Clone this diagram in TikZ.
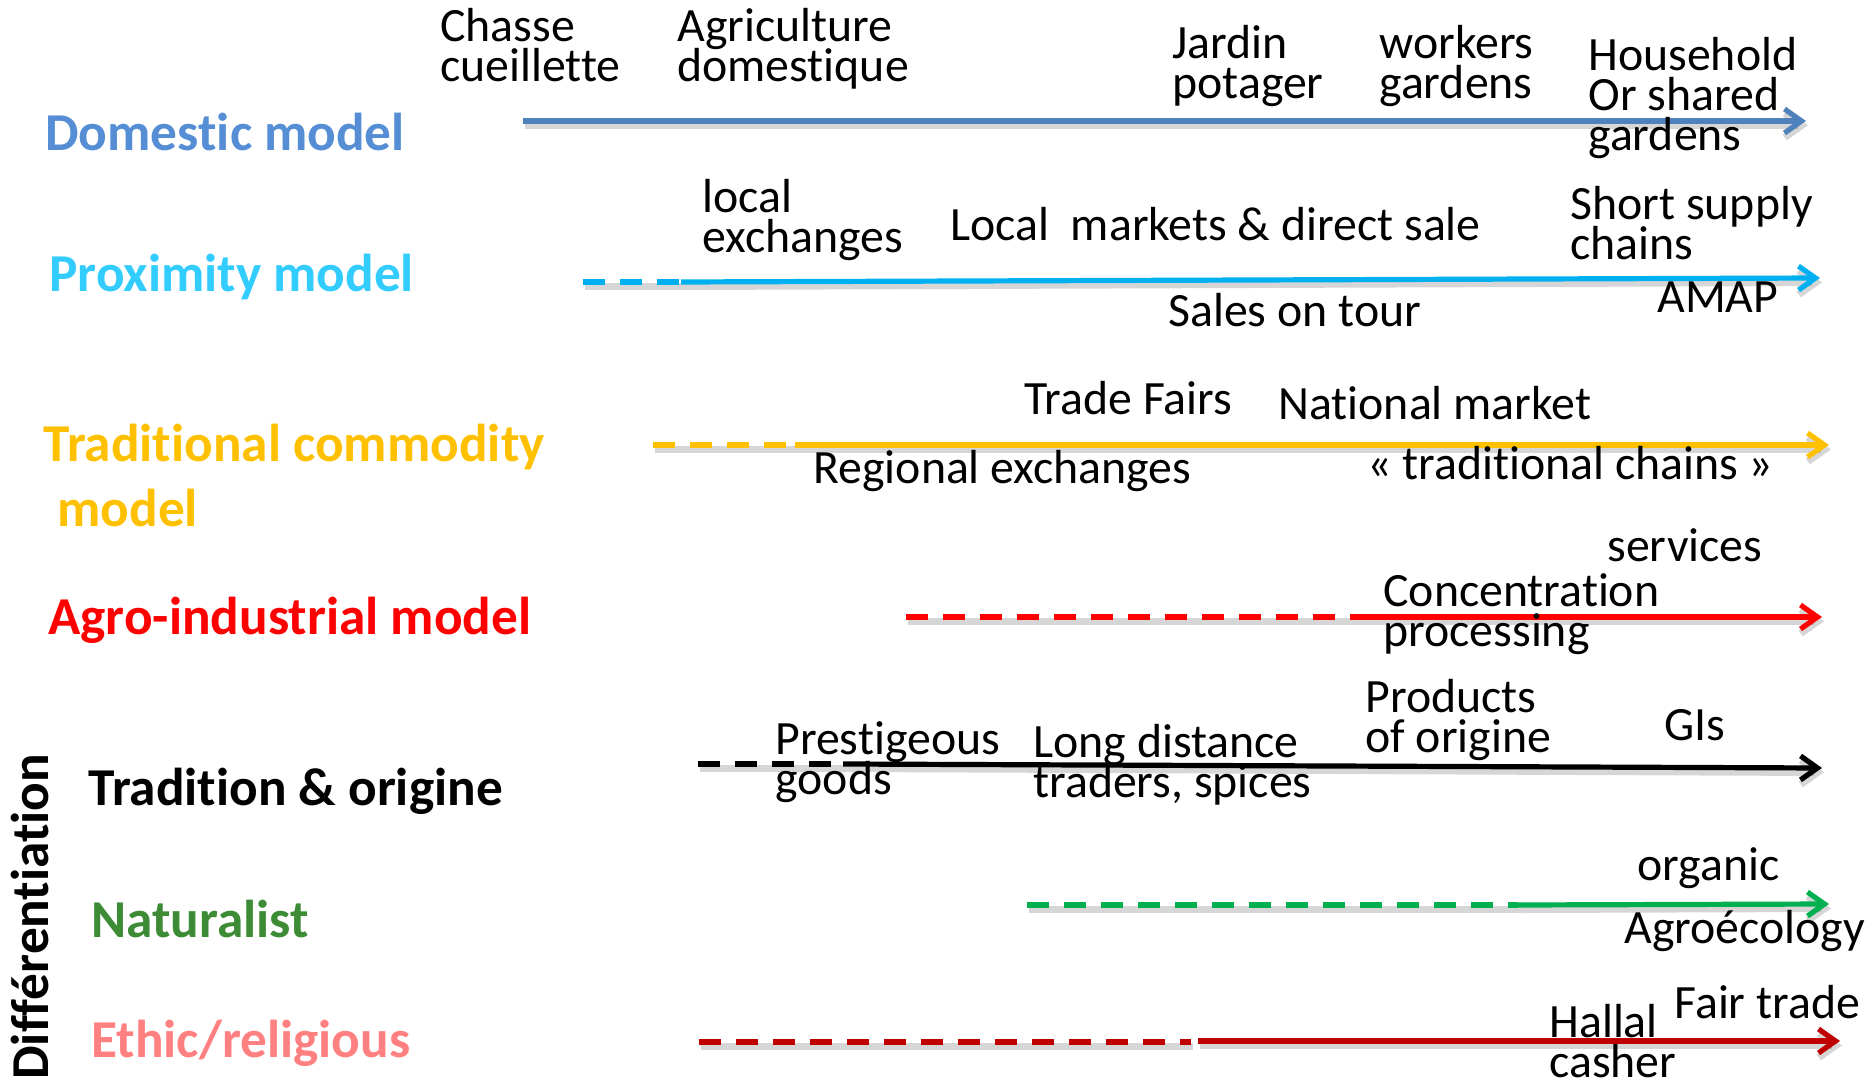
\documentclass[tikz,border=0pt]{standalone}
\usepackage{fontspec}
\setmainfont{Carlito}[Ligatures={NoCommon,NoRequired,NoContextual},Contextuals=NoAlternate]
\usetikzlibrary{arrows.meta}
\definecolor{domtxt}{HTML}{558ED5}
\definecolor{domarr}{HTML}{4F81BD}
\definecolor{proxtxt}{HTML}{33CCFF}
\definecolor{proxarr}{HTML}{00B0F0}
\definecolor{tradcol}{HTML}{FFC000}
\definecolor{agrocol}{HTML}{FF0000}
\definecolor{nattxt}{HTML}{3D8B35}
\definecolor{natarr}{HTML}{00B050}
\definecolor{ethtxt}{HTML}{FF8080}
\definecolor{etharr}{HTML}{C00000}
\newcommand\twoL[2]{\vtop{\baselineskip=20pt\lineskiplimit=-\maxdimen\hbox{#1}\hbox{#2}}}
\newcommand\threeL[3]{\vtop{\baselineskip=20pt\lineskiplimit=-\maxdimen\hbox{#1}\hbox{#2}\hbox{#3}}}
\tikzset{
  lbl/.style={anchor=base west, inner sep=0pt, font=\fontsize{23.9}{20}\selectfont},
  model/.style={anchor=base west, inner sep=0pt, font=\fontsize{26.65}{32}\selectfont\bfseries},
  shaft/.style={line width=2.6pt, line cap=butt,
    preaction={draw=black, draw opacity=0.16, line width=3.6pt,
      transform canvas={shift={(1pt,-2.2pt)}}}},
  dashpart/.style={shaft, dash pattern=on 11pt off 7.5pt},
  tipped/.style={-{Straight Barb[length=8.5pt,width=12pt]}}
}
\begin{document}
\begin{tikzpicture}[x=0.5pt,y=-0.5pt]
\useasboundingbox (0,0) rectangle (1870,1081);
% ---- arrow coordinates
\coordinate (dA) at (523,121);  \coordinate (dE) at (1806,121);
\coordinate (pA) at (583,282);  \coordinate (pM) at (681,282);  \coordinate (pE) at (1820,278);
\coordinate (tA) at (653,445);  \coordinate (tM) at (795,445);  \coordinate (tE) at (1829,445);
\coordinate (aA) at (906,617);  \coordinate (aM) at (1352,617); \coordinate (aE) at (1822,617);
\coordinate (oA) at (698,764);  \coordinate (oM) at (843,764);  \coordinate (oE) at (1822,768);
\coordinate (nA) at (1027,905); \coordinate (nM) at (1518,905); \coordinate (nE) at (1829,904);
\coordinate (eA) at (699,1042); \coordinate (eM) at (1191,1042);\coordinate (eN) at (1198,1041); \coordinate (eE) at (1840,1041);
% ---- arrows
\draw[shaft, tipped, domarr] (dA) -- (dE);
\draw[dashpart, proxarr] (pA) -- (pM);
\draw[shaft, tipped, proxarr] (pM) -- (pE);
\draw[dashpart, tradcol] (tA) -- (tM);
\draw[shaft, tipped, tradcol] (tM) -- (tE);
\draw[dashpart, agrocol] (aA) -- (aM);
\draw[shaft, tipped, agrocol] (aM) -- (aE);
\draw[dashpart, black] (oA) -- (oM);
\draw[shaft, tipped, black] (oM) -- (oE);
\draw[dashpart, natarr] (nA) -- (nM);
\draw[shaft, tipped, natarr] (nM) -- (nE);
\draw[dashpart, etharr] (eA) -- (eM);
\draw[shaft, tipped, etharr] (eN) -- (eE);
% ---- model labels
\node[model, text=domtxt] (mDom) at (45,151) {Domestic model};
\node[model, text=proxtxt] (mProx) at (49,292) {Proximity model};
\node[model, text=tradcol] (mTrad) at (43,461) {\vtop{\baselineskip=32.5pt\lineskiplimit=-\maxdimen\hbox{Traditional commodity}\hbox{\hspace*{7pt}model}}};
\node[model, text=agrocol] (mAgro) at (48,634) {Agro-industrial model};
\node[model, text=black] (mOrig) at (88,805) {Tradition \& origine};
\node[model, text=nattxt] (mNat) at (91,937) {Naturalist};
\node[model, text=ethtxt] (mEth) at (91,1057) {Ethic/religious};
\node[model, text=black, rotate=90] (mDiff) at (48,1080) {Différentiation};
% ---- small labels
\node[lbl] (lChasse) at (440,42) {\twoL{Chasse}{cueillette}};
\node[lbl] (lAgri) at (677,42) {\twoL{Agriculture}{domestique}};
\node[lbl] (lJardin) at (1172,59) {\twoL{Jardin}{potager}};
\node[lbl] (lWork) at (1379,59) {\twoL{workers}{gardens}};
\node[lbl] (lHouse) at (1588,71) {\threeL{Household}{Or shared}{gardens}};
\node[lbl] (lLocal) at (702,213) {\twoL{local}{exchanges}};
\node[lbl] (lMarkets) at (950,241) {Local\ \ markets \& direct sale};
\node[lbl] (lShort) at (1570,220) {\twoL{Short supply}{chains}};
\node[lbl] (lSales) at (1168,326) {Sales on tour};
\node[lbl] (lAmap) at (1657,312) {AMAP};
\node[lbl] (lFairs) at (1024,414) {Trade Fairs};
\node[lbl] (lNat) at (1278,419) {National market};
\node[lbl] (lReg) at (813,483) {Regional exchanges};
\node[lbl] (lTradCh) at (1367,479) {« traditional chains »};
\node[lbl] (lServ) at (1607,561) {services};
\node[lbl] (lConc) at (1383,606) {\twoL{Concentration}{processing}};
\node[lbl] (lPrest) at (775,754) {\twoL{Prestigeous}{goods}};
\node[lbl] (lLong) at (1033,757) {\twoL{Long distance}{traders, spices}};
\node[lbl] (lProd) at (1365,712) {\twoL{Products}{of origine}};
\node[lbl] (lGIs) at (1664,740) {GIs};
\node[lbl] (lOrg) at (1637,880) {organic};
\node[lbl] (lAgroe) at (1624,943) {Agroécology};
\node[lbl] (lFair) at (1674,1018) {Fair trade};
\node[lbl] (lHallal) at (1549,1037) {\twoL{Hallal}{casher}};
\end{tikzpicture}
\end{document}
